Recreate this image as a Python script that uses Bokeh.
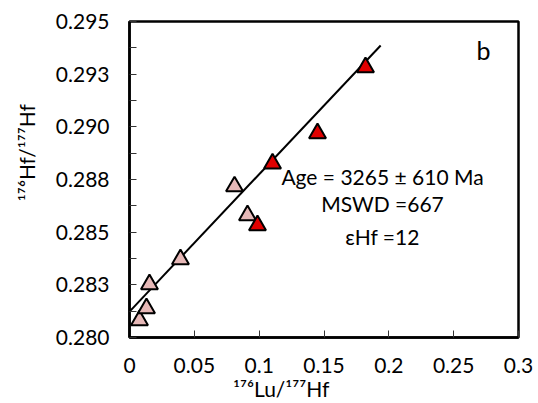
from bokeh.plotting import figure
from bokeh.models import FixedTicker, Range1d, Label
from bokeh.embed import file_html
from bokeh.resources import INLINE

# ---- data ----
pink_x = [0.0077, 0.0131, 0.0154, 0.0393, 0.0810, 0.0910]
pink_y = [0.28081, 0.28138, 0.28252, 0.28371, 0.28717, 0.28580]
red_x = [0.0987, 0.1103, 0.1450, 0.1820]
red_y = [0.28532, 0.28826, 0.28969, 0.29282]
fit_x = [0.0, 0.1937]
fit_y = [0.28123, 0.29386]

x_ticks = [0.0, 0.05, 0.10, 0.15, 0.20, 0.25, 0.30]
x_tick_labels = ["0", "0.05", "0.1", "0.15", "0.2", "0.25", "0.3"]
y_ticks = [0.280, 0.2825, 0.285, 0.2875, 0.290, 0.2925, 0.295]
y_tick_labels = ["0.280", "0.283", "0.285", "0.288", "0.290", "0.293", "0.295"]
y_minor = [0.28125, 0.28375, 0.28625, 0.28875, 0.29125, 0.29375]

x_title = "\u00b9\u2077\u2076Lu/\u00b9\u2077\u2077Hf"
y_title = "\u00b9\u2077\u2076Hf/\u00b9\u2077\u2077Hf"

FONT = "Lato"
NBSP = "\u00a0"

p = figure(width=538, height=403, output_backend="svg", toolbar_location=None,
           x_range=Range1d(0, 0.3), y_range=Range1d(0.280, 0.295),
           min_border_left=129, min_border_right=20, min_border_top=21,
           min_border_bottom=66)
p.background_fill_color = "white"
p.border_fill_color = "white"
p.outline_line_color = "black"
p.outline_line_width = 2.5
p.xgrid.visible = False
p.ygrid.visible = False

# axes
p.xaxis.ticker = FixedTicker(ticks=x_ticks)
p.xaxis.major_label_overrides = {t: l for t, l in zip(x_ticks, x_tick_labels)}
p.yaxis.ticker = FixedTicker(ticks=y_ticks, minor_ticks=y_minor)
p.yaxis.major_label_overrides = {t: l for t, l in zip(y_ticks, y_tick_labels)}

for ax in (p.xaxis[0], p.yaxis[0]):
    ax.axis_line_color = "black"
    ax.axis_line_width = 2.5
    ax.major_tick_in = 7
    ax.major_tick_out = 0
    ax.major_tick_line_color = "#333333"
    ax.major_tick_line_width = 1
    ax.major_label_text_font = FONT
    ax.major_label_text_font_size = "21px"
    ax.major_label_text_color = "black"
    ax.axis_label_text_font = FONT
    ax.axis_label_text_font_size = "21px"
    ax.axis_label_text_font_style = "normal"
    ax.axis_label_text_color = "black"

p.xaxis.minor_tick_line_color = None
p.yaxis.minor_tick_in = 7
p.yaxis.minor_tick_out = 0
p.yaxis.minor_tick_line_color = "#333333"
p.yaxis.minor_tick_line_width = 1

p.xaxis.major_label_standoff = 20
p.yaxis.major_label_standoff = 20
# titles are offset from the frame centre in the reference: pad with no-break spaces
p.xaxis.axis_label = x_title + NBSP * 16
p.yaxis.axis_label = NBSP * 10 + y_title
p.xaxis.axis_label_standoff = 0
p.yaxis.axis_label_standoff = 14

# regression line
p.line(fit_x, fit_y, line_color="black", line_width=2)

# points
p.scatter(pink_x, pink_y, marker="triangle", size=17, fill_color="#E6B8B7",
          line_color="black", line_width=2)
p.scatter(red_x, red_y, marker="triangle", size=17, fill_color="#E00000",
          line_color="black", line_width=2)

# annotations
def add_text(x, y, txt, size):
    p.add_layout(Label(x=x, y=y, text=txt, text_font=FONT, text_font_size=size,
                       text_align="center", text_baseline="middle",
                       text_color="black"))

add_text(0.1951, 0.28764, "Age = 3265 \u00b1 610 Ma", "21px")
add_text(0.1951, 0.28636, "MSWD =667", "21px")
add_text(0.1951, 0.28479, "\u03b5Hf =12", "21px")
add_text(0.2730, 0.29367, "b", "25px")

open("out.html", "w").write(file_html(p, INLINE))
